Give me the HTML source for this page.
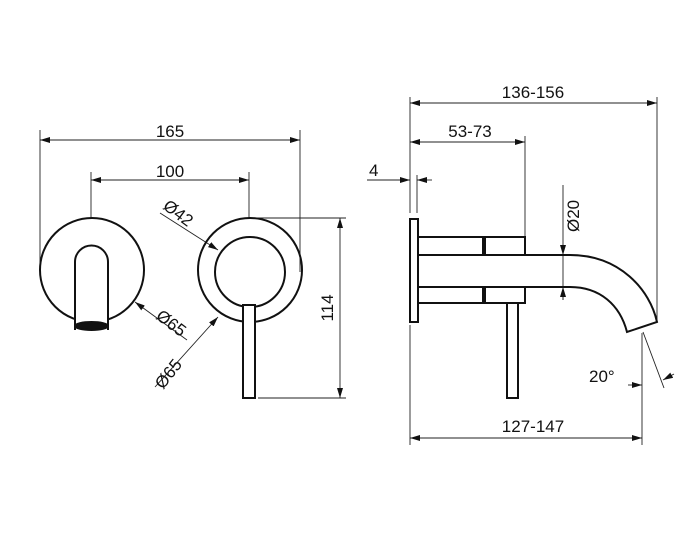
<!DOCTYPE html>
<html><head><meta charset="utf-8"><style>body{margin:0;background:#fff}svg{display:block}text{font-family:"Liberation Sans",sans-serif;font-size:17px;fill:#111}</style></head><body>
<svg width="682" height="541" viewBox="0 0 682 541" xmlns="http://www.w3.org/2000/svg">
<defs><marker id="a" viewBox="0 0 10 6" refX="10" refY="3" markerWidth="10" markerHeight="6" orient="auto-start-reverse" markerUnits="userSpaceOnUse"><path d="M0,0L10,3L0,6z" fill="#111"/></marker></defs>
<g stroke="#222" stroke-width="0.9" fill="none">
<line x1="40" y1="130" x2="40" y2="272"/><line x1="300" y1="130" x2="300" y2="272"/>
<line x1="40" y1="140" x2="300" y2="140" marker-start="url(#a)" marker-end="url(#a)"/>
<line x1="91" y1="172" x2="91" y2="218"/><line x1="249" y1="172" x2="249" y2="218"/>
<line x1="91" y1="180" x2="249" y2="180" marker-start="url(#a)" marker-end="url(#a)"/>
<line x1="250" y1="218" x2="346" y2="218"/><line x1="258" y1="398" x2="346" y2="398"/>
<line x1="340" y1="218" x2="340" y2="398" marker-start="url(#a)" marker-end="url(#a)"/>
<line x1="160" y1="213" x2="218" y2="250" marker-end="url(#a)"/>
<line x1="187" y1="340" x2="135" y2="302" marker-end="url(#a)"/>
<line x1="155" y1="387" x2="218" y2="317" marker-end="url(#a)"/>
<line x1="410" y1="97" x2="410" y2="213"/><line x1="657" y1="97" x2="657" y2="322"/>
<line x1="410" y1="103" x2="657" y2="103" marker-start="url(#a)" marker-end="url(#a)"/>
<line x1="525" y1="136" x2="525" y2="237"/>
<line x1="410" y1="142" x2="525" y2="142" marker-start="url(#a)" marker-end="url(#a)"/>
<line x1="417" y1="175" x2="417" y2="213"/>
<line x1="367" y1="180" x2="410" y2="180" marker-end="url(#a)"/>
<line x1="432" y1="180" x2="417" y2="180" marker-end="url(#a)"/>
<line x1="563" y1="185" x2="563" y2="255" marker-end="url(#a)"/>
<line x1="563" y1="255" x2="563" y2="300"/>
<line x1="563" y1="300" x2="563" y2="287" marker-end="url(#a)"/>
<line x1="410" y1="325" x2="410" y2="445"/><line x1="642" y1="333" x2="642" y2="445"/>
<line x1="410" y1="438" x2="642" y2="438" marker-start="url(#a)" marker-end="url(#a)"/>
<line x1="643" y1="332" x2="664" y2="388"/>
<line x1="628" y1="385" x2="642" y2="385" marker-end="url(#a)"/>
<line x1="674" y1="374" x2="663" y2="380" marker-end="url(#a)"/>
</g>
<g stroke="#111" stroke-width="2" fill="none">
<circle cx="92" cy="270" r="52" fill="#fff"/>
<path d="M75,330V262a16.5,16.5 0 0 1 33,0V330" fill="#fff"/>
<ellipse cx="91.5" cy="326" rx="16.5" ry="4" fill="#111"/>
<circle cx="250" cy="270" r="52"/>
<circle cx="250" cy="272" r="35"/>
<rect x="243" y="305" width="12" height="93" fill="#fff"/>
<rect x="410" y="219" width="8" height="103"/>
<rect x="418" y="237" width="65" height="18"/><rect x="485" y="237" width="40" height="18"/>
<rect x="418" y="287" width="65" height="16"/><rect x="485" y="287" width="40" height="16"/>
<path d="M418,255H570C620,255 650,290 657,322L627,332C620,305 600,287 570,287H418"/>
<rect x="507" y="303" width="11" height="95"/>
</g>
<text x="170" y="137" text-anchor="middle">165</text>
<text x="170" y="177" text-anchor="middle">100</text>
<text transform="translate(333,308) rotate(-90)" text-anchor="middle">114</text>
<text transform="translate(162,208) rotate(37)">Ø42</text>
<text transform="translate(155,318) rotate(37)">Ø65</text>
<text transform="translate(163,390) rotate(-52)">Ø65</text>
<text x="533" y="98" text-anchor="middle">136-156</text>
<text x="470" y="137" text-anchor="middle">53-73</text>
<text x="369" y="176">4</text>
<text transform="translate(579,232) rotate(-90)">Ø20</text>
<text x="589" y="382">20°</text>
<text x="533" y="432" text-anchor="middle">127-147</text>
</svg>
</body></html>
